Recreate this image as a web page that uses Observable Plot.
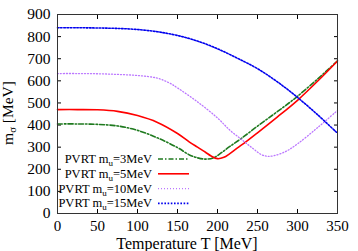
<!DOCTYPE html>
<html><head><meta charset="utf-8">
<script src="https://cdn.jsdelivr.net/npm/d3@7"></script>
<script src="https://cdn.jsdelivr.net/npm/@observablehq/plot@0.6"></script>
<style>body{margin:0;background:#fff} svg, svg text {font-family: "Liberation Serif", serif !important;}</style>
</head><body><div id="chart"></div>
<script>
// ---- data ----
const xTicks = [0, 50, 100, 150, 200, 250, 300, 350];
const yTicks = [0, 100, 200, 300, 400, 500, 600, 700, 800, 900];

const temps3 = [0, 25, 50, 75, 100, 125, 150, 165, 175, 185, 195, 205, 215, 230, 250, 270, 285, 300, 325, 350];
const mass3  = [405, 405, 403, 396, 376, 342, 298, 265, 252, 246, 252, 275, 302, 340, 395, 448, 488, 530, 608, 690];

const temps5 = [0, 25, 50, 75, 100, 125, 150, 165, 175, 185, 192, 200, 208, 215, 225, 235, 250, 275, 300, 325, 350];
const mass5  = [470, 470, 469, 462, 443, 412, 362, 323, 300, 277, 260, 248, 254, 270, 297, 323, 365, 437, 512, 598, 690];

const temps10 = [0, 25, 50, 75, 100, 125, 140, 150, 175, 200, 216, 230, 245, 255, 262, 270, 285, 300, 325, 350];
const mass10  = [633, 633, 632, 629, 624, 612, 590, 568, 505, 432, 375, 335, 292, 266, 259, 261, 280, 315, 388, 466];

const temps15 = [0, 25, 50, 75, 100, 125, 150, 175, 200, 225, 250, 275, 300, 325, 350];
const mass15  = [840, 840, 839, 837, 832, 822, 805, 780, 745, 702, 655, 595, 525, 447, 363];

const seriesMasses = ["3", "5", "10", "15"];
const xLabel = "Temperature T [MeV]";

// ---- build ----
const seriesData = [
  [temps3, mass3], [temps5, mass5], [temps10, mass10], [temps15, mass15]
];
const styles = [
  {stroke: "#1f7a1f", strokeWidth: 1.6, strokeDasharray: "5,2,1.5,2"},
  {stroke: "#ff0000", strokeWidth: 1.6, strokeDasharray: null},
  {stroke: "#bb77ff", strokeWidth: 1.3, strokeDasharray: "1,2"},
  {stroke: "#0000ee", strokeWidth: 1.6, strokeDasharray: "1.6,1.6"}
];
const rows = seriesData.flatMap(([T, M], i) => T.map((t, j) => ({series: i, T: t, m: M[j]})));

const font = "Liberation Serif, serif";

function legend(index, scales, values, dim) {
  const g = d3.create("svg:g").attr("font-family", font).attr("font-size", 12.5);
  const textRight = 152, lineX1 = 158, lineX2 = 189, top = 159, gap = 14.8;
  seriesMasses.forEach((mv, i) => {
    const y = top + i * gap;
    const t = g.append("text").attr("x", textRight).attr("y", y).attr("text-anchor", "end").attr("dy", "0.32em").attr("fill", "#000");
    t.append("tspan").text("PVRT m");
    t.append("tspan").attr("font-size", 9).attr("dy", "3").text("u");
    t.append("tspan").attr("dy", "-3").text("=" + mv + "MeV");
    const s = styles[i];
    g.append("line").attr("x1", lineX1).attr("x2", lineX2).attr("y1", y).attr("y2", y)
      .attr("stroke", s.stroke).attr("stroke-width", s.strokeWidth)
      .attr("stroke-dasharray", s.strokeDasharray);
  });
  return g.node();
}

function axisLabels(index, scales, values, dim) {
  const g = d3.create("svg:g").attr("font-family", font).attr("fill", "#000");
  g.append("text").attr("x", 187).attr("y", 248.5).attr("font-size", 16).attr("text-anchor", "middle").text(xLabel);
  const yl = g.append("text").attr("font-size", 15.5).attr("transform", `translate(13,113) rotate(-90)`).attr("text-anchor", "middle");
  yl.append("tspan").text("m");
  yl.append("tspan").attr("font-size", 10.5).attr("dy", "3").text("σ");
  yl.append("tspan").attr("dy", "-3").text(" [MeV]");
  return g.node();
}

const chart = Plot.plot({
  width: 358, height: 251,
  marginLeft: 57, marginRight: 21, marginTop: 14, marginBottom: 38,
  style: {fontFamily: font, fontSize: "15px", color: "#000", background: "#fff"},
  x: {domain: [0, 350], label: null},
  y: {domain: [0, 900], label: null},
  marks: [
    Plot.axisX(xTicks, {anchor: "bottom", tickSize: -4, tickPadding: 11, label: null, fontSize: 15}),
    Plot.axisX(xTicks, {anchor: "top", tickSize: -4, tickFormat: () => "", label: null}),
    Plot.axisY(yTicks, {anchor: "left", tickSize: -4, tickPadding: 11, label: null, fontSize: 15.5}),
    Plot.axisY(yTicks, {anchor: "right", tickSize: -4, tickFormat: () => "", label: null}),
    ...styles.map((s, i) => Plot.line(rows.filter(d => d.series === i), {
      x: "T", y: "m", curve: "catmull-rom", ...s
    })),
    Plot.frame({stroke: "#333", strokeWidth: 1}),
    legend,
    axisLabels
  ]
});
document.getElementById("chart").append(chart);
</script>
</body></html>
